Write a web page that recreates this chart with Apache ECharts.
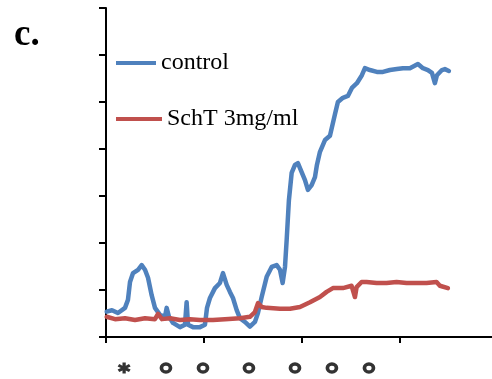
<!DOCTYPE html>
<html>
<head>
<meta charset="utf-8">
<script src="https://cdn.jsdelivr.net/npm/echarts@6/dist/echarts.min.js"></script>
<style>html,body{margin:0;padding:0;background:#fff}#c{width:492px;height:379px}</style>
</head>
<body>
<div id="c"></div>
<script>
// control trace (time units, signal units)
var controlTime = [0.7,6.1,12.2,19.4,22.4,24.5,27.6,32.7,36.4,39.8,42.9,46.6,50.0,55.1,60.2,61.9,64.3,68.4,75.5,80.6,82.3,83.7,88.8,95.9,101.0,103.1,106.1,111.2,116.3,119.4,123.2,126.5,129.6,133.4,136.7,141.8,146.9,152.0,155.1,158.9,164.0,169.1,174.2,177.6,180.3,182.7,184.4,186.7,189.5,192.9,195.9,199.7,203.1,206.1,209.9,213.3,215.3,218.4,223.5,228.6,233.7,236.7,241.8,246.9,251.0,256.1,261.2,264.3,269.4,276.5,282.7,289.8,296.9,303.1,310.2,318.4,323.5,328.6,332.7,335.7,337.8,342.9,345.9,350.0];
var controlValue = [5.4,5.7,5.1,6.2,7.9,11.7,13.6,14.3,15.3,14.3,12.6,8.9,6.2,4.7,4.3,6.2,4.3,3.0,2.1,2.6,7.4,2.6,2.1,2.1,2.6,6.2,8.3,10.4,11.5,13.6,11.1,9.6,8.3,5.7,4.0,3.2,2.2,3.2,5.1,8.5,12.8,14.9,15.3,14.3,11.5,14.9,20.6,29.1,34.9,36.6,37.0,35.1,33.4,31.3,32.3,34.0,36.6,39.4,41.9,42.8,47.4,50.0,50.9,51.3,53.0,54.0,55.7,57.2,56.8,56.4,56.4,56.8,57.0,57.2,57.2,58.1,57.2,56.8,56.2,54.0,55.7,56.8,57.0,56.6];
// SchT 3mg/ml trace
var schtTime = [0.7,9.2,19.4,29.6,39.8,50.0,53.1,57.1,65.3,75.5,85.7,95.9,109.2,121.4,136.7,146.9,152.0,155.1,158.9,164.0,177.6,187.8,198.0,208.2,218.4,225.2,231.6,241.8,250.7,254.1,255.8,260.9,266.0,276.2,286.4,296.6,306.8,317.0,327.2,337.4,340.8,349.0];
var schtValue = [4.3,3.8,4.0,3.6,4.0,3.8,4.9,3.8,4.0,3.6,3.8,3.6,3.6,3.8,4.0,4.3,5.3,7.2,6.4,6.2,6.0,6.0,6.4,7.4,8.5,9.6,10.4,10.4,10.9,8.5,10.6,11.7,11.7,11.5,11.5,11.7,11.5,11.5,11.5,11.7,10.9,10.4];
// event markers under the time axis
var starTime = [18.5];
var ringTime = [61.2,99.0,145.9,192.9,230.6,268.4];
var markerLevel = -6.6;
var xTicks = [0,100,200,300];
var yTicks = [0,10,20,30,40,50,60,70];

function zip(a,b){return a.map(function(v,i){return [v,b[i]];});}

var starPath = 'path://M9,0L15,0L15,6.804L20.892,3.402L23.892,8.598L18,12L23.892,15.402L20.892,20.598L15,17.196L15,24L9,24L9,17.196L3.108,20.598L0.108,15.402L6,12L0.108,8.598L3.108,3.402L9,6.804Z';

var chart = echarts.init(document.getElementById('c'), null, {renderer:'canvas'});
var font = 'Liberation Serif';
chart.setOption({
  animation:false,
  backgroundColor:'#fff',
  title:{text:'c.', left:14, top:17, padding:0,
    textStyle:{fontFamily:font, fontWeight:'bold', fontSize:37, color:'#000'}},
  legend:[
    {data:['control'], left:116, top:51, padding:0, icon:'rect', itemWidth:40, itemHeight:4,
     textStyle:{fontFamily:font, fontSize:24, color:'#000'}},
    {data:['SchT 3mg/ml'], left:116, top:107, padding:0, icon:'rect', itemWidth:46, itemHeight:4,
     textStyle:{fontFamily:font, fontSize:24, color:'#000'}}
  ],
  grid:{left:106, right:0, top:8, bottom:42},
  xAxis:{type:'value', min:0, max:394, interval:100,
    axisLine:{show:true, onZero:false, lineStyle:{color:'#000', width:2}},
    axisTick:{show:true, length:6, customValues:xTicks, lineStyle:{color:'#000', width:2}},
    axisLabel:{show:false, customValues:xTicks}, splitLine:{show:false}},
  yAxis:{type:'value', min:0, max:70, interval:10,
    axisLine:{show:true, lineStyle:{color:'#000', width:2}},
    axisTick:{show:true, length:7, customValues:yTicks, lineStyle:{color:'#000', width:2}},
    axisLabel:{show:false}, splitLine:{show:false}},
  series:[
    {name:'control', type:'line', data:zip(controlTime,controlValue), showSymbol:false, smooth:false,
     lineStyle:{color:'#4F81BD', width:4.5, join:'round', cap:'round'}, itemStyle:{color:'#4F81BD'}, z:3},
    {name:'SchT 3mg/ml', type:'line', data:zip(schtTime,schtValue), showSymbol:false, smooth:false,
     lineStyle:{color:'#C0504D', width:4.5, join:'round', cap:'round'}, itemStyle:{color:'#C0504D'}, z:4},
    {name:'rings', type:'scatter', clip:false, data:ringTime.map(function(t){return [t,markerLevel];}),
     symbol:'circle', symbolSize:[9,8], itemStyle:{color:'#fff', borderColor:'#000', borderWidth:3.5}, silent:true},
    {name:'star', type:'scatter', clip:false, data:starTime.map(function(t){return [t,markerLevel];}),
     symbol:starPath, symbolKeepAspect:false, symbolSize:[13,11], itemStyle:{color:'#000'}, silent:true}
  ]
});
</script>
</body>
</html>
